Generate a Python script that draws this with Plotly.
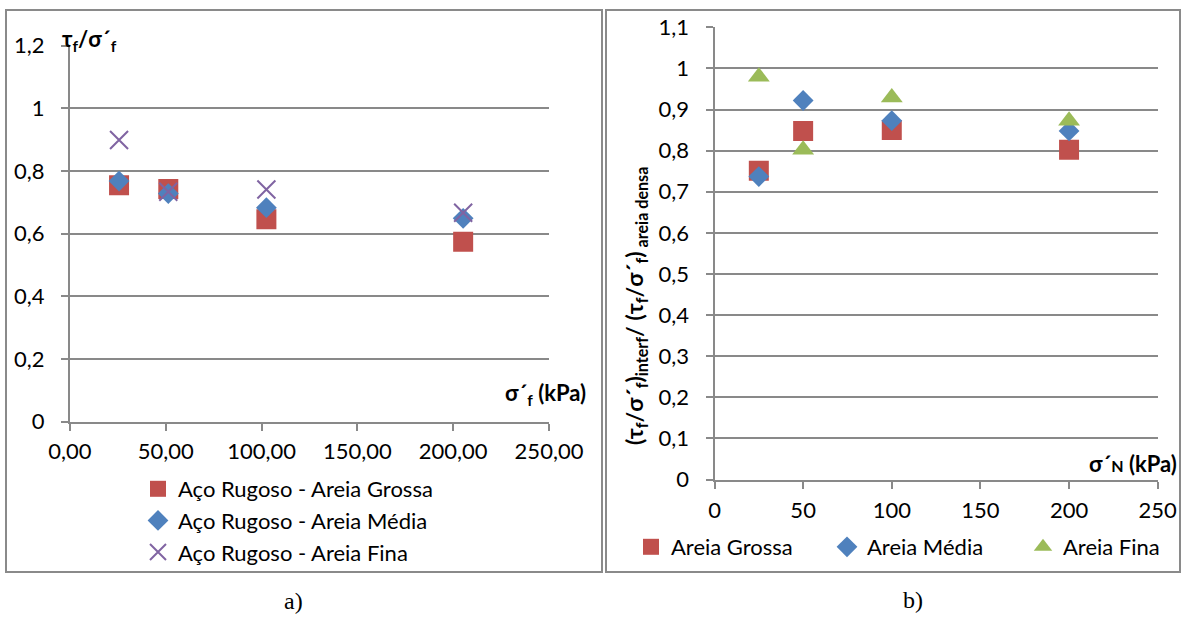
import plotly.graph_objects as go

W, H = 1184, 628

# ---- panel a): tau_f / sigma'_f against sigma'_f
a_sigma = [25.6, 51.3, 102.5, 205.2]
a_grossa = [0.755, 0.743, 0.646, 0.574]
a_media = [0.768, 0.728, 0.683, 0.649]
a_fina = [0.899, 0.734, 0.741, 0.667]
a_xticks = [0, 50, 100, 150, 200, 250]
a_xtext = ["0,00", "50,00", "100,00", "150,00", "200,00", "250,00"]
a_yticks = [0, 0.2, 0.4, 0.6, 0.8, 1.0, 1.2]
a_ytext = ["0", "0,2", "0,4", "0,6", "0,8", "1", "1,2"]

# ---- panel b): normalised ratio against sigma'_N
b_sigma = [25, 50, 100, 200]
b_grossa = [0.751, 0.848, 0.850, 0.802]
b_media = [0.737, 0.922, 0.873, 0.848]
b_fina = [0.980, 0.802, 0.929, 0.873]
b_xticks = [0, 50, 100, 150, 200, 250]
b_xtext = ["0", "50", "100", "150", "200", "250"]
b_yticks = [0, 0.1, 0.2, 0.3, 0.4, 0.5, 0.6, 0.7, 0.8, 0.9, 1.0, 1.1]
b_ytext = ["0", "0,1", "0,2", "0,3", "0,4", "0,5", "0,6", "0,7", "0,8", "0,9", "1", "1,1"]

RED = "#C0504D"
BLUE = "#4F81BD"
PURPLE = "#8064A2"
GREEN = "#9BBB59"
GRID = "#898989"
FONT = "Lato"


def px(x):
    return x / W


def py(y):
    return 1 - y / H


fig = go.Figure()

# panel a traces
fig.add_trace(go.Scatter(x=a_sigma, y=a_grossa, mode="markers", name="Aço Rugoso - Areia Grossa",
                         marker=dict(symbol="square", size=20, color=RED), xaxis="x", yaxis="y",
                         legend="legend"))
fig.add_trace(go.Scatter(x=a_sigma, y=a_media, mode="markers", name="Aço Rugoso - Areia Média",
                         marker=dict(symbol="diamond", size=16, color=BLUE), xaxis="x", yaxis="y",
                         legend="legend"))
fig.add_trace(go.Scatter(x=a_sigma, y=a_fina, mode="markers", name="Aço Rugoso - Areia Fina",
                         marker=dict(symbol="x-thin", size=18, color=PURPLE,
                                     line=dict(color=PURPLE, width=2)),
                         xaxis="x", yaxis="y", legend="legend"))

# panel b traces
fig.add_trace(go.Scatter(x=b_sigma, y=b_grossa, mode="markers", name="Areia Grossa",
                         marker=dict(symbol="square", size=20, color=RED), xaxis="x2", yaxis="y2",
                         legend="legend2"))
fig.add_trace(go.Scatter(x=b_sigma, y=b_media, mode="markers", name="Areia Média",
                         marker=dict(symbol="diamond", size=16, color=BLUE), xaxis="x2", yaxis="y2",
                         legend="legend2"))
fig.add_trace(go.Scatter(x=b_sigma, y=b_fina, mode="markers", name="Areia Fina",
                         marker=dict(symbol="triangle-up", size=19, color=GREEN), xaxis="x2", yaxis="y2",
                         legend="legend2"))

axis_common = dict(showline=True, linecolor=GRID, linewidth=2, ticks="outside", ticklen=7,
                   tickcolor=GRID, tickwidth=2, zeroline=False, automargin=False,
                   tickfont=dict(family=FONT, size=22, color="#000000"))

fig.update_layout(
    width=W, height=H,
    autosize=False,
    margin=dict(l=0, r=0, t=0, b=0, pad=0, autoexpand=False),
    paper_bgcolor="white", plot_bgcolor="white",
    font=dict(family=FONT, size=22, color="#000000"),
    xaxis=dict(domain=[px(70), px(549)], range=[0, 250], tickmode="array",
               tickvals=a_xticks, ticktext=a_xtext, showgrid=False, anchor="y",
               ticklabelstandoff=2, **axis_common),
    yaxis=dict(domain=[py(421.7), py(45.7)], range=[0, 1.2], tickmode="array",
               tickvals=a_yticks, ticktext=a_ytext, showgrid=True, gridcolor=GRID,
               gridwidth=2, anchor="x", ticklabelstandoff=12, **axis_common),
    xaxis2=dict(domain=[px(714.5), px(1157.7)], range=[0, 250], tickmode="array",
                tickvals=b_xticks, ticktext=b_xtext, showgrid=False, anchor="y2",
                ticklabelstandoff=3, **axis_common),
    yaxis2=dict(domain=[py(479.6), py(27.3)], range=[0, 1.1], tickmode="array",
                tickvals=b_yticks, ticktext=b_ytext, showgrid=True, gridcolor=GRID,
                gridwidth=2, anchor="x2", ticklabelstandoff=12, **axis_common),
    legend=dict(x=px(138), y=py(468), xanchor="left", yanchor="top", orientation="v",
                font=dict(family=FONT, size=22), bgcolor="rgba(0,0,0,0)", tracegroupgap=0,
                itemwidth=30),
    legend2=dict(x=px(631), y=py(526), xanchor="left", yanchor="top", orientation="h",
                 font=dict(family=FONT, size=22), bgcolor="rgba(0,0,0,0)", entrywidth=151,
                 itemwidth=30),
    showlegend=True,
)

# panel frames
for x0, x1 in [(6, 602), (606, 1180)]:
    fig.add_shape(type="rect", xref="paper", yref="paper", x0=px(x0), x1=px(x1),
                  y0=py(572), y1=py(10), line=dict(color="#8A8A8A", width=2),
                  fillcolor="rgba(0,0,0,0)", layer="below")

ann_font = dict(family=FONT, size=22, color="#000000")
fig.add_annotation(xref="paper", yref="paper", x=px(60), y=py(40), xanchor="left", yanchor="middle",
                   text="<b>τ<sub>f</sub>/σ´<sub>f</sub></b>", showarrow=False, font=ann_font)
fig.add_annotation(xref="paper", yref="paper", x=px(588), y=py(394), xanchor="right", yanchor="middle",
                   text="<b>σ´<sub>f</sub> (kPa)</b>", showarrow=False, font=ann_font)
fig.add_annotation(xref="paper", yref="paper", x=px(1179), y=py(463), xanchor="right", yanchor="middle",
                   text="<b>σ´<span style='font-size:16px'>N</span> (kPa)</b>", showarrow=False,
                   font=ann_font)
fig.add_annotation(xref="paper", yref="paper", x=px(635), y=py(306), xanchor="center", yanchor="middle",
                   textangle=-90,
                   text="<b>(τ<sub>f</sub>/σ´<sub>f</sub>)<sub>interf</sub>/ (τ<sub>f</sub>/σ´<sub>f</sub>)"
                        "<sub> areia densa</sub></b>",
                   showarrow=False, font=dict(family=FONT, size=23, color="#000000"))

# sub-figure captions
cap_font = dict(family="Liberation Serif", size=24, color="#000000")
fig.add_annotation(xref="paper", yref="paper", x=px(281.5), y=py(616), text="a)", showarrow=False,
                   font=cap_font)
fig.add_annotation(xref="paper", yref="paper", x=px(924.5), y=py(615), text="b)", showarrow=False,
                   font=cap_font)

fig.write_html("out.html")
